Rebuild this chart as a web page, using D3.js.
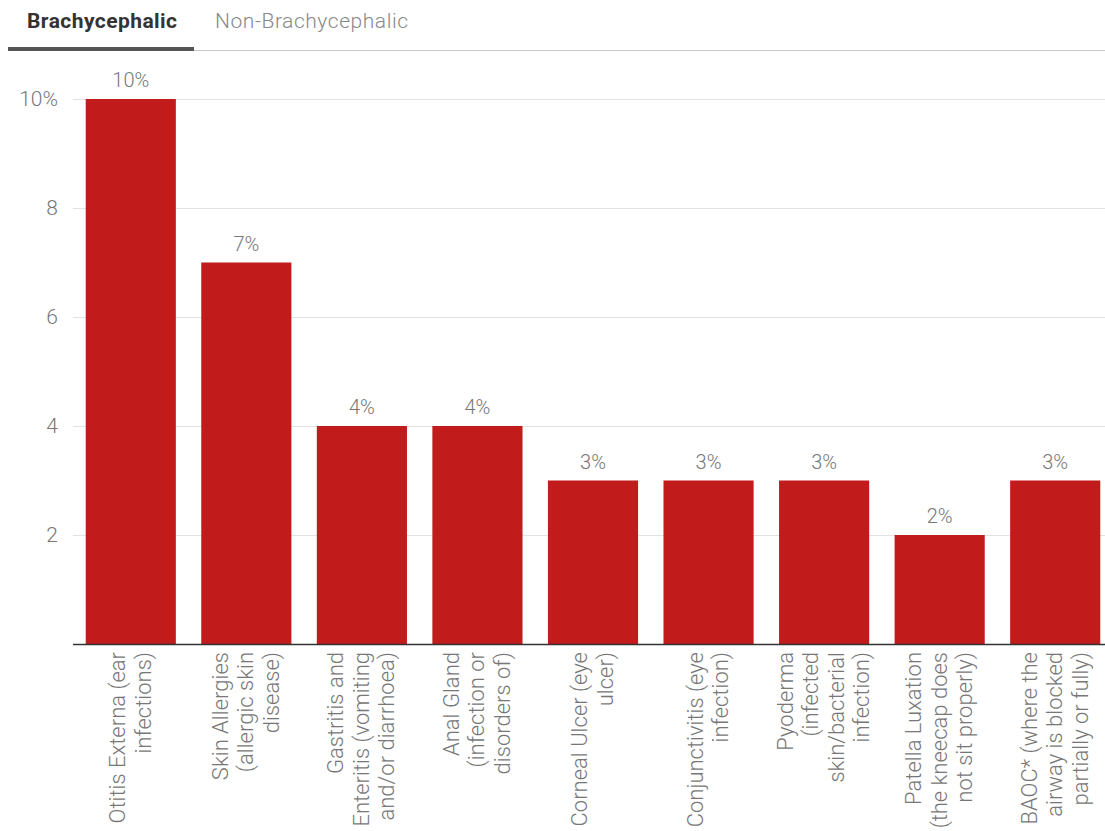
<!DOCTYPE html>
<html>
<head>
<meta charset="utf-8">
<script src="https://cdn.jsdelivr.net/npm/d3@7"></script>
<style>
  body { margin: 0; background: #fff; font-family: Roboto, "Noto Sans", sans-serif; }
</style>
</head>
<body>
<div id="chart"></div>
<script>
const categories = [
    ["Otitis Externa (ear", "infections)"],
    ["Skin Allergies", "(allergic skin", "disease)"],
    ["Gastritis and", "Enteritis (vomiting", "and/or diarrhoea)"],
    ["Anal Gland", "(infection or", "disorders of)"],
    ["Corneal Ulcer (eye", "ulcer)"],
    ["Conjunctivitis (eye", "infection)"],
    ["Pyoderma", "(infected", "skin/bacterial", "infection)"],
    ["Patella Luxation", "(the kneecap does", "not sit properly)"],
    ["BAOC* (where the", "airway is blocked", "partially or fully)"]
];
const values = [10, 7, 4, 4, 3, 3, 3, 2, 3];
const yTicks = [2, 4, 6, 8, 10];
const tabs = ["Brachycephalic", "Non-Brachycephalic"];

const width = 1105, height = 831;
const svg = d3.select("#chart").append("svg")
    .attr("width", width)
    .attr("height", height);

// tabs
svg.append("text")
    .attr("x", 27).attr("y", 28)
    .attr("font-size", 21).attr("font-weight", "bold")
    .attr("fill", "#333")
    .attr("textLength", 150)
    .text(tabs[0]);
svg.append("text")
    .attr("x", 215).attr("y", 28)
    .attr("font-size", 21).attr("font-weight", 300)
    .attr("fill", "#888")
    .attr("textLength", 193)
    .text(tabs[1]);
svg.append("line")
    .attr("x1", 194).attr("x2", width)
    .attr("y1", 50.5).attr("y2", 50.5)
    .attr("stroke", "#ccc");
svg.append("rect")
    .attr("x", 8).attr("y", 47)
    .attr("width", 186).attr("height", 4)
    .attr("fill", "#555");

const x = d3.scaleBand()
    .domain(d3.range(values.length))
    .range([73, 1113])
    .paddingInner(0.22)
    .paddingOuter(0.11);

const y = d3.scaleLinear()
    .domain([0, 10])
    .range([644, 99]);

// gridlines
svg.append("g").selectAll("line")
    .data(yTicks)
    .join("line")
    .attr("x1", 73).attr("x2", width)
    .attr("y1", d => Math.round(y(d)) + 0.5)
    .attr("y2", d => Math.round(y(d)) + 0.5)
    .attr("stroke", "#e2e2e2");

// y tick labels
svg.append("g").selectAll("text")
    .data(yTicks)
    .join("text")
    .attr("x", 58)
    .attr("y", d => y(d) + 7)
    .attr("text-anchor", "end")
    .attr("font-size", 21)
    .attr("font-weight", 300)
    .attr("fill", "#777")
    .text(d => d === 10 ? "10%" : d);

// bars
svg.append("g").selectAll("rect")
    .data(values)
    .join("rect")
    .attr("x", (d, i) => x(i))
    .attr("y", d => y(d))
    .attr("width", x.bandwidth())
    .attr("height", d => y(0) - y(d))
    .attr("fill", "#c21b1b");

// value labels
svg.append("g").selectAll("text")
    .data(values)
    .join("text")
    .attr("x", (d, i) => x(i) + x.bandwidth() / 2)
    .attr("y", d => y(d) - 12)
    .attr("text-anchor", "middle")
    .attr("font-size", 20)
    .attr("font-weight", 300)
    .attr("fill", "#777")
    .text(d => d + "%");

// baseline
svg.append("line")
    .attr("x1", 73).attr("x2", width)
    .attr("y1", y(0) + 0.5).attr("y2", y(0) + 0.5)
    .attr("stroke", "#333")
    .attr("stroke-width", 1.5);

// category labels (rotated, wrapped)
const lineGap = 25.5;
const labels = svg.append("g").selectAll("g")
    .data(categories)
    .join("g")
    .attr("transform", (d, i) => {
        const cx = x(i) + x.bandwidth() / 2;
        return `translate(${cx},652) rotate(-90)`;
    });

labels.selectAll("text")
    .data(d => d.map((t, j) => ({t, j, n: d.length})))
    .join("text")
    .attr("x", 0)
    .attr("y", d => (d.j - (d.n - 1) / 2) * lineGap + 7)
    .attr("text-anchor", "end")
    .attr("font-size", 22)
    .attr("font-weight", 300)
    .attr("fill", "#777")
    .text(d => d.t);
</script>
</body>
</html>
